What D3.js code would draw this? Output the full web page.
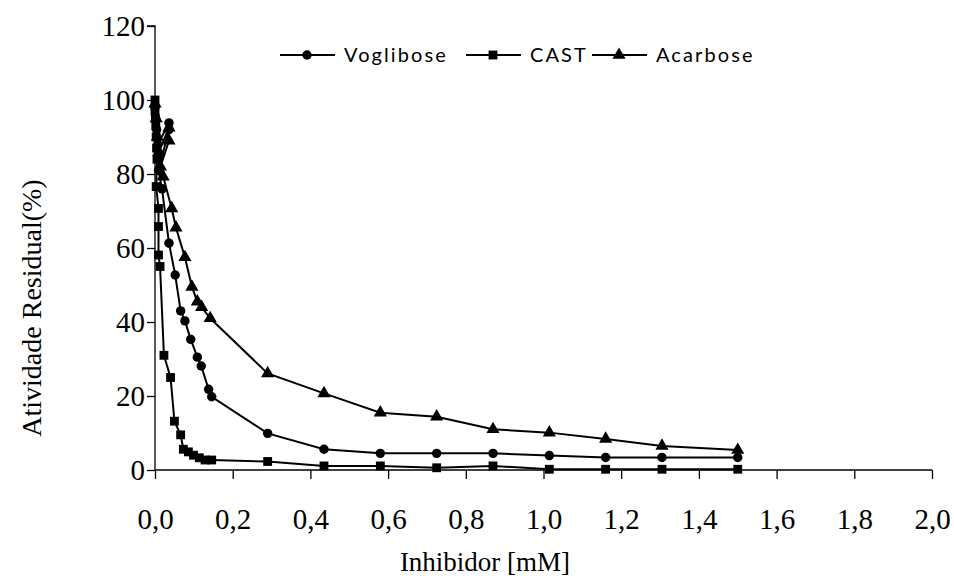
<!DOCTYPE html>
<html>
<head>
<meta charset="utf-8">
<script src="https://cdn.jsdelivr.net/npm/d3@7"></script>
<style>
  html, body { margin: 0; padding: 0; background: #fff; }
  svg { display: block; }
</style>
</head>
<body>
<script>
// Residual activity (%) against inhibitor concentration (mM)
const voglibose = {
  x: [0, 0.002, 0.004, 0.007, 0.036, 0.036, 0.009, 0.018, 0.036, 0.052, 0.066, 0.077, 0.092, 0.109, 0.119, 0.138, 0.146, 0.29, 0.435, 0.58, 0.725, 0.87, 1.015, 1.16, 1.305, 1.5],
  y: [98, 95, 92, 88, 93.8, 92, 81, 76, 61.3, 52.7, 43, 40.3, 35.3, 30.5, 28.1, 21.8, 19.8, 9.9, 5.6, 4.5, 4.5, 4.5, 3.9, 3.4, 3.4, 3.4]
};
const cast = {
  x: [0, 0, 0.001, 0.002, 0.003, 0.004, 0.005, 0.003, 0.009, 0.009, 0.009, 0.013, 0.023, 0.04, 0.05, 0.066, 0.073, 0.086, 0.099, 0.114, 0.129, 0.146, 0.29, 0.435, 0.58, 0.725, 0.87, 1.015, 1.16, 1.305, 1.5],
  y: [100, 97, 95, 93, 90, 87, 84, 76.6, 70.7, 65.8, 58.1, 55, 31, 25, 13.2, 9.5, 5.6, 4.9, 4.0, 3.3, 2.7, 2.7, 2.3, 1.1, 1.1, 0.6, 1.1, 0.2, 0.2, 0.2, 0.2]
};
const acarbose = {
  x: [0, 0.003, 0.006, 0.01, 0.036, 0.036, 0.014, 0.021, 0.043, 0.054, 0.077, 0.095, 0.109, 0.12, 0.142, 0.29, 0.435, 0.58, 0.725, 0.87, 1.015, 1.16, 1.305, 1.5],
  y: [99, 95, 90, 86, 92.5, 89, 82, 79.3, 70.7, 65.5, 57.5, 49.5, 45.5, 44, 41, 26.1, 20.7, 15.5, 14.4, 11, 10.1, 8.4, 6.5, 5.4]
};
const seriesNames = ["Voglibose", "CAST", "Acarbose"];
const seriesShapes = ["circle", "square", "triangle"];
const xTicks = [0, 0.2, 0.4, 0.6, 0.8, 1.0, 1.2, 1.4, 1.6, 1.8, 2.0];
const yTicks = [0, 20, 40, 60, 80, 100, 120];
const xTitle = "Inhibidor [mM]";
const yTitle = "Atividade Residual(%)";

const W = 954, H = 578;
const margin = { left: 155, right: 22, top: 26, bottom: 108 };
const serif = '"Liberation Serif", "Times New Roman", serif';

const svg = d3.select("body").append("svg").attr("width", W).attr("height", H);

const x = d3.scaleLinear().domain([0, 2]).range([margin.left, W - margin.right]);
const y = d3.scaleLinear().domain([0, 120]).range([H - margin.bottom, margin.top]);

const fmt = d => d3.format(".1f")(d).replace(".", ",");

const xAxis = svg.append("g")
  .attr("transform", `translate(0,${y(0)})`)
  .call(d3.axisBottom(x).tickValues(xTicks).tickFormat(fmt).tickSize(9).tickPadding(14));
const yAxis = svg.append("g")
  .attr("transform", `translate(${x(0)},0)`)
  .call(d3.axisLeft(y).tickValues(yTicks).tickSize(8).tickPadding(2));

[xAxis, yAxis].forEach(g => {
  g.attr("font-family", serif).attr("font-size", 29);
  g.select(".domain").attr("stroke", "#000").attr("stroke-width", 1.3);
  g.selectAll(".tick line").attr("stroke", "#000").attr("stroke-width", 1.3);
  g.selectAll(".tick text").attr("fill", "#000");
});
yAxis.select(".domain").attr("d", `M-8,${y(120)}H0V${y(0)}`);
xAxis.select(".domain").attr("d", `M0,0H${x(2) - x(0)}`).attr("transform", `translate(${x(0)},0)`);
xAxis.selectAll(".tick text").attr("y", 59).attr("dy", null);

svg.append("text")
  .attr("font-family", serif).attr("font-size", 27)
  .attr("x", 485).attr("y", 571).attr("text-anchor", "middle").text(xTitle);
svg.append("text")
  .attr("font-family", serif).attr("font-size", 28)
  .attr("transform", `translate(41,308) rotate(-90)`)
  .attr("text-anchor", "middle").text(yTitle);

const symbolFor = {
  circle: d3.symbol().type(d3.symbolCircle).size(70),
  square: d3.symbol().type(d3.symbolSquare).size(78),
  triangle: d3.symbol().type(d3.symbolTriangle).size(75)
};

const line = d3.line();
const data = [voglibose, cast, acarbose];

data.forEach(s => {
  const pts = s.x.map((v, j) => [x(v), y(s.y[j])]);
  svg.append("path").attr("d", line(pts)).attr("fill", "none")
    .attr("stroke", "#000").attr("stroke-width", 2);
});
data.forEach((s, i) => {
  const pts = s.x.map((v, j) => [x(v), y(s.y[j])]);
  svg.append("g").selectAll("path").data(pts).join("path")
    .attr("transform", d => `translate(${d[0]},${d[1]})`)
    .attr("d", symbolFor[seriesShapes[i]]())
    .attr("fill", "#000");
});

// legend
const legendX = [280, 466, 592];
const legend = svg.append("g")
  .attr("font-family", 'Lato, "Open Sans", sans-serif')
  .attr("font-size", 20);
seriesNames.forEach((name, i) => {
  const g = legend.append("g").attr("transform", `translate(${legendX[i]},55)`);
  g.append("line").attr("x1", 0).attr("x2", 55).attr("stroke", "#000").attr("stroke-width", 2);
  g.append("path").attr("transform", "translate(27,0)").attr("d", symbolFor[seriesShapes[i]]()).attr("fill", "#000");
  g.append("text").attr("x", 64).attr("y", 0).attr("dy", "0.35em")
    .attr("letter-spacing", 2.1).attr("fill", "#000").text(name);
});
</script>
</body>
</html>
